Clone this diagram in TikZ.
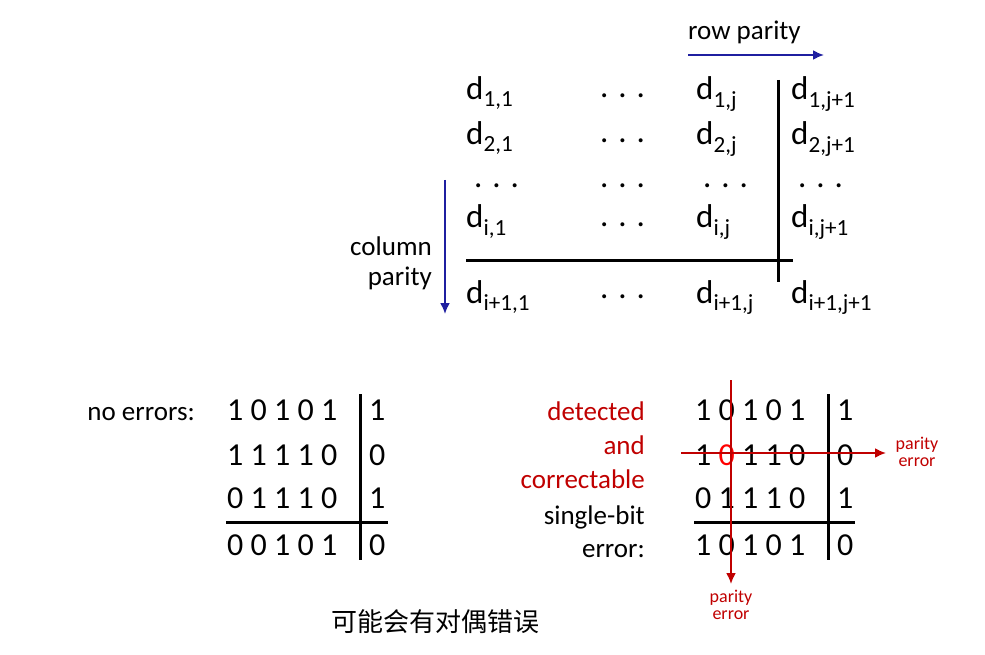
\documentclass[tikz,border=0pt]{standalone}
\usepackage{fontspec}
\usetikzlibrary{arrows.meta}
\setmainfont{Carlito}
\newfontfamily\cjk{Noto Sans CJK SC}
\definecolor{dred}{HTML}{C00000}
\definecolor{dblue}{HTML}{1F1FA0}
\begin{document}
\begin{tikzpicture}[x=1pt,y=-1pt,
  dd/.style={font=\fontsize{33}{36}\selectfont, anchor=base west, inner sep=0},
  lab/.style={font=\fontsize{27}{30}\selectfont, inner sep=0},
  dig/.style={font=\fontsize{32}{36}\selectfont, anchor=base west, inner sep=0},
  small/.style={font=\fontsize{18}{17}\selectfont, text=dred, inner sep=0, align=center},
  bar/.style={line width=3pt},
  arr/.style={line width=2pt,-{Latex[length=11pt,width=10pt]}}]
\useasboundingbox (0,0) rectangle (985,655);
% top matrix
\foreach \y/\r in {100/1,145/2,228/i} {
  \node[dd] (a\r) at (466,\y) {d\textsubscript{\r,1}};
  \node[dd] (b\r) at (600,\y-2) {. . .};
  \node[dd] (c\r) at (696,\y) {d\textsubscript{\r,j}};
  \node[dd] (e\r) at (791,\y) {d\textsubscript{\r,j+1}};
}
\node[dd] at (474,188) {. . .};
\node[dd] at (600,188) {. . .};
\node[dd] at (703,188) {. . .};
\node[dd] at (798,188) {. . .};
\node[dd] at (466,303) {d\textsubscript{i+1,1}};
\node[dd] at (600,298) {. . .};
\node[dd] at (696,303) {d\textsubscript{i+1,j}};
\node[dd] at (791,303) {d\textsubscript{i+1,j+1}};
\coordinate (v1) at (778,80); \coordinate (v2) at (778,282);
\draw[bar] (v1) -- (v2);
\coordinate (h1) at (466,260); \coordinate (h2) at (793,260);
\draw[bar] (h1) -- (h2);
\node[lab, anchor=base west] (rp) at (688,40) {row parity};
\coordinate (rp1) at (688,55); \coordinate (rp2) at (824,55);
\draw[arr,dblue] (rp1) -- (rp2);
\node[lab, anchor=base east] (cp1) at (432,255) {column};
\node[lab, anchor=base east] (cp2) at (432,285) {parity};
\coordinate (cp3) at (445,180); \coordinate (cp4) at (445,314);
\draw[arr,dblue] (cp3) -- (cp4);
% left bottom matrix
\node[lab, anchor=base east] (ne) at (195,420) {no errors:};
\foreach \y/\r/\p in {420/1 0 1 0 1/1,465/1 1 1 1 0/0,508/0 1 1 1 0/1,555/0 0 1 0 1/0} {
  \node[dig] at (227,\y) {\r};
  \node[dig] at (369,\y) {\p};
}
\coordinate (lv1) at (360,394); \coordinate (lv2) at (360,560);
\draw[bar] (lv1) -- (lv2);
\coordinate (lh1) at (226,522); \coordinate (lh2) at (388,522);
\draw[bar] (lh1) -- (lh2);
% right labels
\node[lab, anchor=base east, text=dred] at (645,420) {detected};
\node[lab, anchor=base east, text=dred] at (645,454) {and};
\node[lab, anchor=base east, text=dred] at (645,488) {correctable};
\node[lab, anchor=base east] at (645,524) {single-bit};
\node[lab, anchor=base east] at (645,557) {error:};
% right matrix
\foreach \y/\r/\p in {420/1 0 1 0 1/1,508/0 1 1 1 0/1,555/1 0 1 0 1/0} {
  \node[dig] at (695,\y) {\r};
  \node[dig] at (837,\y) {\p};
}
\node[dig] at (695,465) {1 {\color{red}0} 1 1 0};
\node[dig] at (837,465) {0};
\coordinate (rv1) at (828,394); \coordinate (rv2) at (828,560);
\draw[bar] (rv1) -- (rv2);
\coordinate (rh1) at (694,522); \coordinate (rh2) at (855,522);
\draw[bar] (rh1) -- (rh2);
\coordinate (ev1) at (731,380); \coordinate (ev2) at (731,584);
\draw[arr,dred] (ev1) -- (ev2);
\coordinate (eh1) at (681,453); \coordinate (eh2) at (886,453);
\draw[arr,dred] (eh1) -- (eh2);
\node[small] (pe1) at (917,452) {parity\\error};
\node[small] (pe2) at (731,605) {parity\\error};
\node[font=\cjk\fontsize{26}{28}\selectfont, inner sep=0] (cn) at (435,622) {可能会有对偶错误};
\end{tikzpicture}
\end{document}
